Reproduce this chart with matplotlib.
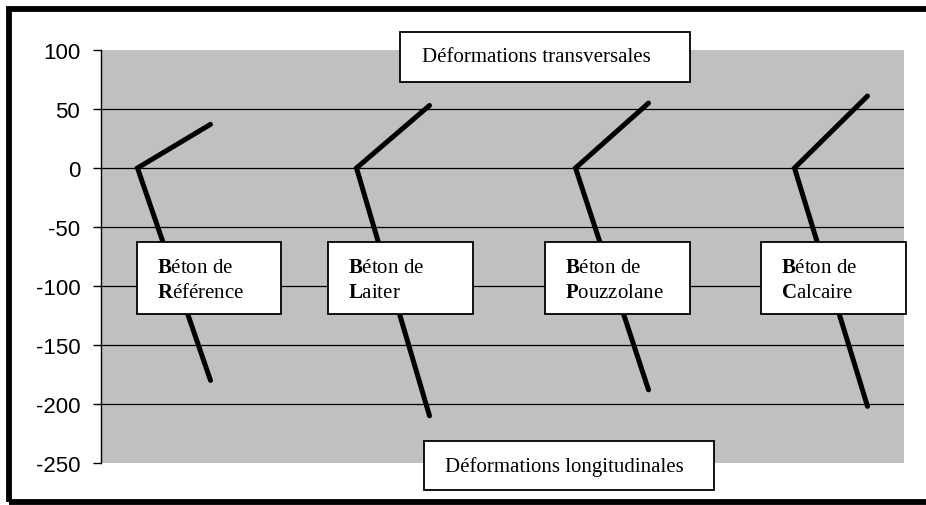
import matplotlib
matplotlib.use("Agg")
import matplotlib.pyplot as plt
from matplotlib.patches import Rectangle

# Données
betons = ["Référence", "Laiter", "Pouzzolane", "Calcaire"]
x_origine = [0.5, 3.5, 6.5, 9.5]
x_fin = [1.5, 4.5, 7.5, 10.5]
def_transversales = [37, 53, 55, 61]
def_longitudinales = [-180, -210, -188, -202]
yticks = [-250, -200, -150, -100, -50, 0, 50, 100]

plt.rcParams['mathtext.fontset'] = 'custom'
plt.rcParams['mathtext.rm'] = 'Liberation Serif'
plt.rcParams['mathtext.bf'] = 'Liberation Serif:bold'

W, H = 926, 506
fig = plt.figure(figsize=(W / 100, H / 100), dpi=100)
ax = fig.add_axes([101 / W, 1 - 464 / H, 803 / W, 413 / H])
ax.set_facecolor('#c0c0c0')

for x0, x1, yt, yl in zip(x_origine, x_fin, def_transversales, def_longitudinales):
    ax.plot([x1, x0, x1], [yt, 0, yl], color='black', lw=3.6,
            solid_capstyle='round', solid_joinstyle='miter', zorder=3)

ax.set_xlim(0, 11)
ax.set_ylim(-250, 100)
ax.set_yticks(yticks)
ax.set_yticklabels([str(v) for v in yticks], family='Liberation Sans', fontsize=16)
ax.set_xticks([])
ax.tick_params(axis='y', direction='out', length=6, width=1, color='black', pad=9)
ax.yaxis.grid(True, color='black', lw=0.9)
gl = ax.yaxis.get_gridlines()
gl[0].set_visible(False)
gl[-1].set_visible(False)
for s in ['top', 'right', 'bottom']:
    ax.spines[s].set_visible(False)
ax.spines['left'].set_linewidth(1)


def boite(x0, y0, x1, y1):
    r = Rectangle((x0 / W, 1 - y1 / H), (x1 - x0) / W, (y1 - y0) / H,
                  transform=fig.transFigure, facecolor='white', edgecolor='black',
                  lw=1.3, zorder=5)
    fig.add_artist(r)


serif = dict(family='Liberation Serif', fontsize=15, zorder=6, color='black')

boite(400, 33, 690, 83)
fig.text(422 / W, 1 - 58 / H, "Déformations transversales", va='center', ha='left', **serif)

boite(424, 442, 714, 491)
fig.text(445 / W, 1 - 467 / H, "Déformations longitudinales", va='center', ha='left', **serif)

boites_x = [(137, 281), (328, 473), (545, 690), (761, 906)]
for (bx0, bx1), nom in zip(boites_x, betons):
    boite(bx0, 243, bx1, 315)
    fig.text((bx0 + 20) / W, 1 - 273 / H, r"$\mathbf{B}$éton de", va='baseline', ha='left', **serif)
    fig.text((bx0 + 20) / W, 1 - 298 / H, r"$\mathbf{" + nom[0] + "}$" + nom[1:],
             va='baseline', ha='left', **serif)

# cadre extérieur
fig.add_artist(Rectangle((9 / W, 1 - 503 / H), 930 / W, 493 / H, transform=fig.transFigure,
                         facecolor='none', edgecolor='black', lw=4.2, zorder=10))

fig.savefig('out.png', dpi=100)
